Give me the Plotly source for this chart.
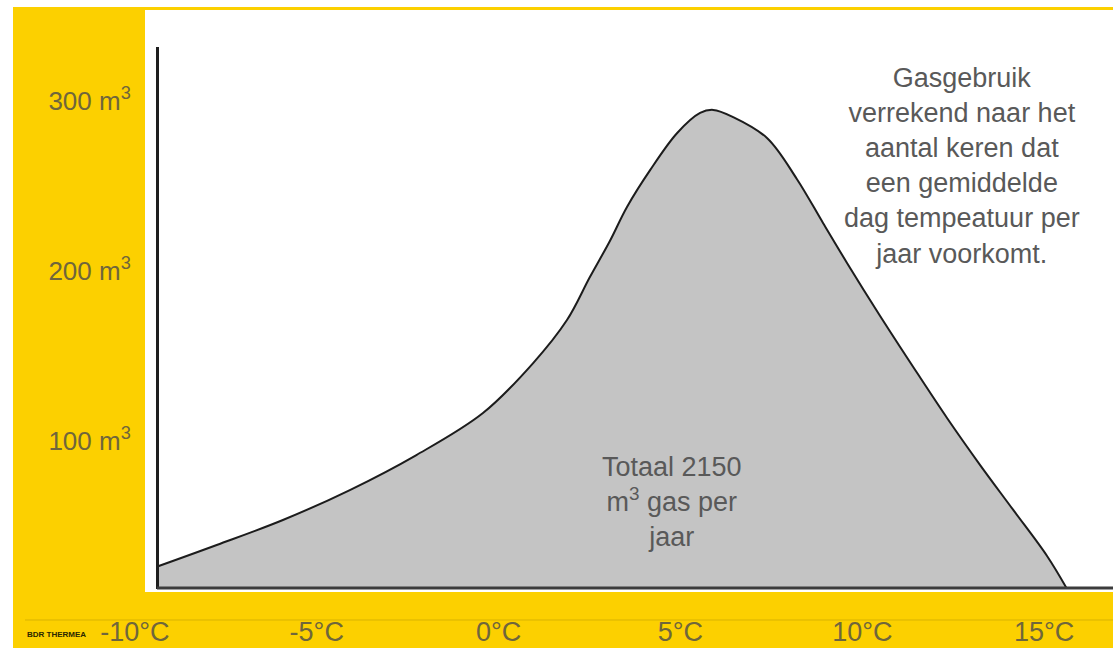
import plotly.graph_objects as go

# ---- data ----
temp_c = [-9.40, -7.75, -5.93, -4.09, -2.26, -0.43, 0.95, 1.88, 2.51, 3.06, 3.53, 4.17,
          4.91, 5.54, 5.90, 6.45, 7.38, 8.20, 8.92, 9.58, 10.49, 11.40, 12.33, 13.24,
          14.15, 15.08, 15.63]
gas_m3 = [13.1, 25.9, 40.6, 58.2, 78.8, 103.5, 132.9, 158.2, 183.5, 204.7, 224.7, 246.5,
          268.2, 280.0, 281.8, 277.6, 265.3, 241.2, 215.3, 191.8, 160.6, 130.6, 100.6, 72.9,
          46.5, 19.4, 0.0]

x_tick_vals = [-10, -5, 0, 5, 10, 15]
x_tick_text = ["-10°C", "-5°C", "0°C", "5°C", "10°C", "15°C"]
y_tick_vals = [100, 200, 300]
y_tick_text = ["100 m<sup>3</sup>", "200 m<sup>3</sup>", "300 m<sup>3</sup>"]

note_text = ("Gasgebruik<br>verrekend naar het<br>aantal keren dat<br>een gemiddelde"
             "<br>dag tempeatuur per<br>jaar voorkomt.")
total_text = "Totaal 2150<br>m<sup>3</sup> gas per<br>jaar"
brand_text = "BDR THERMEA"

# ---- style ----
W, H = 1113, 648
YELLOW = "#FCD000"
LABEL_COL = "#6f663c"
TEXT_COL = "#595959"
FONT = "Liberation Sans, Arial, sans-serif"

def px(xp):
    return xp / W

def py(yp):
    return (H - yp) / H

fig = go.Figure()
fig.add_trace(go.Scatter(
    x=temp_c, y=gas_m3, mode="lines",
    line=dict(color="#1c1c1c", width=2, shape="spline", smoothing=1.0),
    fill="tozeroy", fillcolor="#c4c4c4",
    hoverinfo="skip", showlegend=False,
))

fig.update_layout(
    width=W, height=H,
    margin=dict(l=0, r=0, t=0, b=0, pad=0, autoexpand=False),
    paper_bgcolor=YELLOW,
    plot_bgcolor="rgba(0,0,0,0)",
    showlegend=False,
    xaxis=dict(
        domain=[0, 1],
        range=[-13.709, 16.893],
        tickvals=x_tick_vals, ticktext=x_tick_text,
        showgrid=False, zeroline=False, showline=False, ticks="",
        tickfont=dict(family=FONT, size=27, color=LABEL_COL),
        ticklabelstandoff=24,
        fixedrange=True,
    ),
    yaxis=dict(
        domain=[py(589), py(47)],
        range=[0, 318.8],
        anchor="free", position=px(157),
        tickvals=y_tick_vals, ticktext=y_tick_text,
        showgrid=False, zeroline=False,
        showline=True, linecolor="#1e1e1e", linewidth=3,
        ticks="",
        tickfont=dict(family=FONT, size=26, color=LABEL_COL),
        ticklabelstandoff=20,
        ticklabelshift=22,
        fixedrange=True,
    ),
    font=dict(family=FONT),
)

shapes = [
    # white outside strips of the screenshot
    dict(type="rect", xref="paper", yref="paper", x0=0, x1=px(13), y0=0, y1=1,
         fillcolor="white", line=dict(width=0), layer="below"),
    dict(type="rect", xref="paper", yref="paper", x0=0, x1=1, y0=py(7), y1=1,
         fillcolor="white", line=dict(width=0), layer="below"),
    # white chart area
    dict(type="rect", xref="paper", yref="paper", x0=px(145), x1=1, y0=py(592), y1=py(10),
         fillcolor="white", line=dict(width=0), layer="below"),
    # baseline (x axis line)
    dict(type="line", xref="paper", yref="paper", x0=px(157), x1=1, y0=py(588), y1=py(588),
         line=dict(color="#3c3c3c", width=3), layer="above"),
    # footer rule
    dict(type="line", xref="paper", yref="paper", x0=px(25), x1=1, y0=py(620), y1=py(620),
         line=dict(color="#d9b300", width=1), layer="below"),
]
fig.update_layout(shapes=shapes)

fig.add_annotation(text=note_text, xref="paper", yref="paper", x=px(962), y=py(166),
                   xanchor="center", yanchor="middle", align="center", showarrow=False,
                   font=dict(family=FONT, size=27, color=TEXT_COL))
fig.add_annotation(text=total_text, xref="paper", yref="paper", x=px(672), y=py(502),
                   xanchor="center", yanchor="middle", align="center", showarrow=False,
                   font=dict(family=FONT, size=27, color=TEXT_COL))
fig.add_annotation(text="<b>" + brand_text + "</b>", xref="paper", yref="paper",
                   x=px(25), y=py(634), xanchor="left", yanchor="middle", showarrow=False,
                   font=dict(family=FONT, size=8, color="#2b2800"))

fig.write_html("out.html",
               config={"displayModeBar": False},
               post_script="document.body.style.margin='0px';document.body.style.overflow='hidden';")
